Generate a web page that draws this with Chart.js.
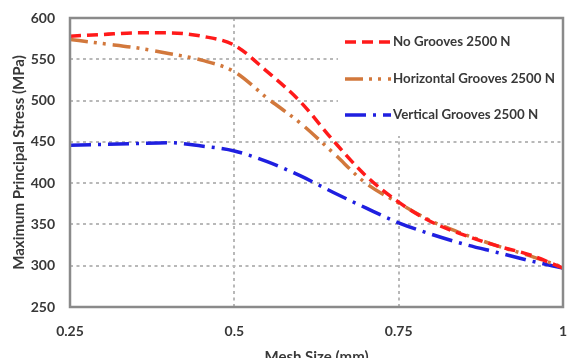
<!DOCTYPE html>
<html>
<head>
<meta charset="utf-8">
<script src="https://cdn.jsdelivr.net/npm/chart.js@4"></script>
<style>
  html, body { margin: 0; padding: 0; background: #ffffff; }
  #wrap { width: 575px; height: 358px; }
</style>
</head>
<body>
<div id="wrap"><canvas id="c" width="575" height="358"></canvas></div>
<script>
const meshSizes = [0.25, 0.3, 0.35, 0.4, 0.45, 0.5, 0.55, 0.6, 0.65, 0.7, 0.75, 0.8, 0.85, 0.9, 0.95, 1];
const noGrooves = [578, 580, 582, 582, 578, 567, 535, 499, 452, 409, 377, 353, 337, 324, 313, 297];
const horizontalGrooves = [574, 569, 564, 557, 549, 535, 503, 473, 437, 400, 376, 354, 338, 324, 312, 298];
const verticalGrooves = [446, 447, 448, 449, 445, 439, 426, 409, 389, 370, 352, 338, 326, 316, 306, 297];
const seriesLabels = ['No Grooves 2500 N', 'Horizontal Grooves 2500 N', 'Vertical Grooves 2500 N'];
const xTicks = [0.25, 0.5, 0.75, 1];
const yTicks = [250, 300, 350, 400, 450, 500, 550, 600];
const xTitle = 'Mesh Size (mm)';
const yTitle = 'Maximum Principal Stress (MPa)';

const FONT = 'Lato';
const TEXT = '#383838';

function pts(arr) { return meshSizes.map((x, i) => ({ x: x, y: arr[i] })); }

const styles = [
  { color: '#ff1a1a', dash: [11, 6] },
  { color: '#d2783c', dash: [18, 6, 3, 6, 3, 7] },
  { color: '#1f1fe0', dash: [21, 7, 3, 7] }
];

const boxPlugin = {
  id: 'boxPlugin',
  beforeDatasetsDraw(chart) {
    const { ctx, chartArea: a } = chart;
    ctx.save();
    ctx.fillStyle = '#ffffff';
    ctx.fillRect(338, a.top + 1, a.right - 338, 135 - a.top);
    ctx.restore();
  },
  afterDraw(chart) {
    const { ctx, chartArea: a } = chart;
    ctx.save();
    ctx.strokeStyle = '#8a8a8a';
    ctx.lineWidth = 2.5;
    ctx.strokeRect(a.left, a.top, a.right - a.left, a.bottom - a.top);
    const ys = [42, 79, 115];
    chart.data.datasets.forEach((ds, i) => {
      ctx.beginPath();
      ctx.strokeStyle = ds.borderColor;
      ctx.lineWidth = 3.5;
      ctx.setLineDash(ds.borderDash);
      ctx.moveTo(345, ys[i]);
      ctx.lineTo(391, ys[i]);
      ctx.stroke();
      ctx.setLineDash([]);
      ctx.fillStyle = TEXT;
      ctx.font = 'bold 13.3px ' + FONT;
      ctx.textBaseline = 'middle';
      ctx.textAlign = 'left';
      ctx.fillText(ds.label, 393, ys[i]);
    });
    ctx.restore();
  }
};

const gridColor = (ctx) => {
  const v = ctx.tick ? ctx.tick.value : null;
  const s = ctx.scale;
  if (v === s.min || v === s.max) return 'rgba(0,0,0,0)';
  return '#b8b8b8';
};

function zeroPad(s) { s.paddingLeft = 0; s.paddingRight = 0; s.paddingTop = 0; s.paddingBottom = 0; }

new Chart(document.getElementById('c'), {
  type: 'line',
  data: {
    datasets: [noGrooves, horizontalGrooves, verticalGrooves].map((arr, i) => ({
      label: seriesLabels[i],
      data: pts(arr),
      borderColor: styles[i].color,
      backgroundColor: styles[i].color,
      borderDash: styles[i].dash,
      borderWidth: 3.5,
      pointRadius: 0,
      fill: false,
      cubicInterpolationMode: 'monotone'
    }))
  },
  options: {
    responsive: false,
    animation: false,
    layout: { padding: { top: 18, right: 12, bottom: 0, left: 0 } },
    plugins: { legend: { display: false }, tooltip: { enabled: false } },
    scales: {
      x: {
        type: 'linear',
        min: 0.25,
        max: 1,
        afterBuildTicks: (s) => { s.ticks = xTicks.map(v => ({ value: v })); },
        afterFit: (s) => { s.height = 51; zeroPad(s); },
        ticks: {
          padding: 16,
          color: TEXT,
          font: { family: FONT, size: 14, weight: 'bold' },
          maxRotation: 0,
          callback: (v) => String(v)
        },
        grid: { color: gridColor, lineWidth: 2, drawTicks: false },
        border: { display: false, dash: [3, 3.5] },
        title: {
          display: true,
          text: xTitle,
          color: TEXT,
          font: { family: FONT, size: 15, weight: 'bold' },
          padding: { top: 0, bottom: -8 }
        }
      },
      y: {
        min: 250,
        max: 600,
        afterBuildTicks: (s) => { s.ticks = yTicks.map(v => ({ value: v })); },
        afterFit: (s) => { s.width = 70; zeroPad(s); },
        ticks: {
          padding: 15,
          color: TEXT,
          font: { family: FONT, size: 14, weight: 'bold' },
          callback: (v) => String(v)
        },
        grid: { color: gridColor, lineWidth: 2, drawTicks: false },
        border: { display: false, dash: [3, 3.5] },
        title: {
          display: true,
          text: yTitle,
          color: TEXT,
          font: { family: FONT, size: 15, weight: 'bold' },
          padding: { top: 10, bottom: 0 }
        }
      }
    }
  },
  plugins: [boxPlugin]
});
</script>
</body>
</html>
